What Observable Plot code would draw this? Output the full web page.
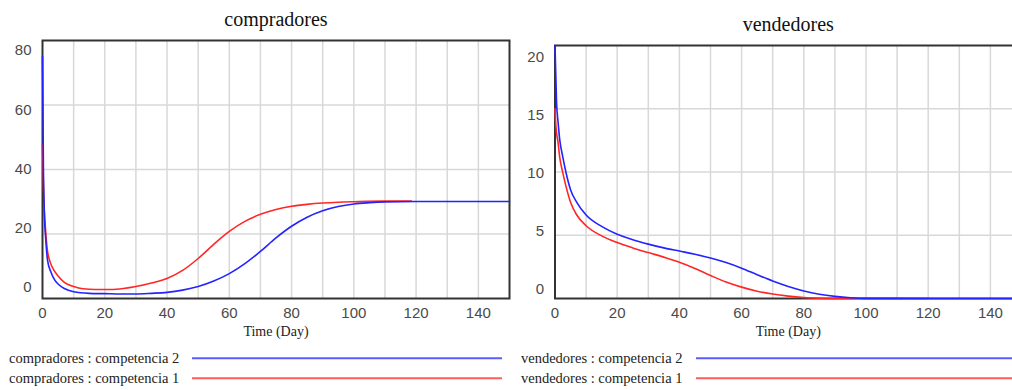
<!DOCTYPE html>
<html>
<head>
<meta charset="utf-8">
<script src="https://cdn.jsdelivr.net/npm/d3@7"></script>
<script src="https://cdn.jsdelivr.net/npm/@observablehq/plot@0.6"></script>
<style>
  html, body { margin: 0; padding: 0; background: #fff; }
  #wrap { position: relative; width: 1012px; height: 390px; overflow: hidden; background: #fff; }
  #wrap > svg, #wrap > div { position: absolute; top: 0; }
</style>
</head>
<body>
<div id="wrap"></div>
<script>
// ---------- data ----------
const xTicks = [0, 20, 40, 60, 80, 100, 120, 140];
const xGrid = [10, 20, 30, 40, 50, 60, 70, 80, 90, 100, 110, 120, 130, 140];

// compradores
const compTitle = "compradores";
const compYTicks = [0, 20, 40, 60, 80];
const compT2 = [0, 0.3, 0.6, 1, 1.6, 2.7, 4, 5, 7, 10, 15, 20, 25, 30, 35, 40, 45, 50, 55, 60, 65, 70, 75, 80, 85, 90, 95, 100, 105, 110, 120, 150];
const compV2 = [75, 40, 26, 19, 12, 8.2, 5.6, 4.5, 3.1, 2.1, 1.6, 1.5, 1.4, 1.4, 1.6, 1.9, 2.6, 3.7, 5.4, 7.7, 10.8, 14.6, 18.8, 22.4, 25.2, 27.2, 28.5, 29.3, 29.7, 29.95, 30.1, 30.1];
const compT1 = [0, 0.3, 0.6, 1, 1.5, 2.5, 3.5, 5, 7, 10, 13, 17, 22, 26, 30, 35, 40, 45, 50, 55, 60, 65, 70, 75, 80, 85, 90, 95, 100, 110, 118.5];
const compV1 = [48, 35, 27, 21, 15.5, 11.2, 9, 7, 5, 3.7, 3.0, 2.8, 2.8, 3.1, 3.7, 4.8, 6.2, 8.7, 12.4, 16.8, 20.8, 23.9, 26.1, 27.6, 28.6, 29.2, 29.6, 29.85, 30.0, 30.2, 30.2];

// vendedores
const vendTitle = "vendedores";
const vendYTicks = [0, 5, 10, 15, 20];
const vendT2 = [0, 0.5, 1, 1.5, 2.5, 3.5, 5, 7, 10, 15, 20, 25, 30, 35, 40, 45, 50, 55, 60, 65, 70, 75, 80, 85, 90, 95, 100, 150];
const vendV2 = [20, 15.5, 13.9, 12.6, 11.2, 10.0, 8.6, 7.6, 6.6, 5.7, 5.08, 4.65, 4.3, 4.0, 3.75, 3.5, 3.2, 2.84, 2.4, 1.88, 1.38, 0.95, 0.6, 0.34, 0.17, 0.06, 0.01, 0];
const vendT1 = [0, 0.3, 1, 1.5, 2.5, 3.5, 5, 7, 10, 15, 20, 25, 30, 35, 40, 45, 50, 55, 60, 65, 70, 75, 80, 85, 90, 120];
const vendV1 = [15, 13.6, 12.3, 11.2, 9.95, 8.9, 7.6, 6.6, 5.75, 4.95, 4.42, 4.0, 3.63, 3.27, 2.87, 2.38, 1.82, 1.3, 0.9, 0.58, 0.35, 0.19, 0.08, 0.02, 0, 0];

const xLabel = "Time (Day)";
const compLegend = ["compradores : competencia 2", "compradores : competencia 1"];
const vendLegend = ["vendedores : competencia 2", "vendedores : competencia 1"];

// ---------- styles ----------
const BLUE = "#2323ff", RED = "#ff2626";
const BLUE_L = "#5c5cff", RED_L = "#ff5c5c";
const GRID = "#d8d8d8";
const SERIF = "'Liberation Serif', 'Times New Roman', serif";
const SANS = "'Liberation Sans', Arial, sans-serif";

const toRows = (t, v) => t.map((d, i) => ({t: d, v: v[i]}));

function panel({title, yTicks, t1, v1, t2, v2, marginTop, marginLeft, dTop, dBottom}) {
  const yMax = yTicks[yTicks.length - 1];
  const yGrid = yTicks.slice(1, -1);
  const yAxes = yTicks.map(v => Plot.axisY([v], {
    tickSize: 0, tickPadding: 11, fontSize: 15, fontFamily: SANS, fill: "#4a4a4a",
    label: null, dy: dBottom + (dTop - dBottom) * (v / yMax)
  }));
  return Plot.plot({
    width: 520, height: 345,
    marginTop, marginBottom: 47, marginLeft, marginRight: 11,
    x: {domain: [0, 150]},
    y: {domain: [0, yMax]},
    style: {background: "transparent", overflow: "visible", fontFamily: SANS},
    marks: [
      Plot.gridX(xGrid, {stroke: GRID, strokeOpacity: 1, strokeWidth: 1.5}),
      Plot.gridY(yGrid, {stroke: GRID, strokeOpacity: 1, strokeWidth: 1.5}),
      Plot.frame({stroke: "#333", strokeWidth: 2}),
      ...yAxes,
      Plot.axisX(xTicks, {tickSize: 0, tickPadding: 9, fontSize: 15, fontFamily: SANS, fill: "#4a4a4a", label: null}),
      Plot.text([xLabel], {frameAnchor: "bottom", dy: 37, fontSize: 14, fontFamily: SERIF, fill: "#222", text: d => d}),
      Plot.text([title], {frameAnchor: "top", dy: -29, fontSize: 20, fontFamily: SERIF, fill: "#111", text: d => d}),
      Plot.line(toRows(t1, v1), {x: "t", y: "v", stroke: RED, strokeWidth: 1.6, curve: "monotone-x"}),
      Plot.line(toRows(t2, v2), {x: "t", y: "v", stroke: BLUE, strokeWidth: 1.6, curve: "monotone-x"})
    ]
  });
}

const wrap = document.getElementById("wrap");

const left = panel({title: compTitle, yTicks: compYTicks, t1: compT1, v1: compV1, t2: compT2, v2: compV2,
  marginTop: 40, marginLeft: 42, dTop: 10, dBottom: -11});
left.style.left = "0px";
wrap.appendChild(left);

const right = panel({title: vendTitle, yTicks: vendYTicks, t1: vendT1, v1: vendV1, t2: vendT2, v2: vendV2,
  marginTop: 45, marginLeft: 42.5, dTop: 11.5, dBottom: -9});
right.style.left = "512px";
wrap.appendChild(right);

// ---------- legends ----------
const legendSvg = d3.create("svg").attr("width", 1012).attr("height", 390)
  .style("position", "absolute").style("left", "0px").style("top", "0px");
const legendGroups = [
  {labels: compLegend, tx: 9, x1: 192, x2: 502},
  {labels: vendLegend, tx: 521, x1: 696, x2: 1030}
];
const legendColors = [BLUE_L, RED_L];
const legendRows = [358.3, 378.3];
legendGroups.forEach(g => {
  g.labels.forEach((lab, i) => {
    legendSvg.append("text").attr("x", g.tx).attr("y", legendRows[i] + 4.3)
      .attr("font-family", SERIF).attr("font-size", 14.5).attr("fill", "#222").text(lab);
    legendSvg.append("line").attr("x1", g.x1).attr("x2", g.x2)
      .attr("y1", legendRows[i]).attr("y2", legendRows[i])
      .attr("stroke", legendColors[i]).attr("stroke-width", 2);
  });
});
wrap.appendChild(legendSvg.node());
</script>
</body>
</html>
